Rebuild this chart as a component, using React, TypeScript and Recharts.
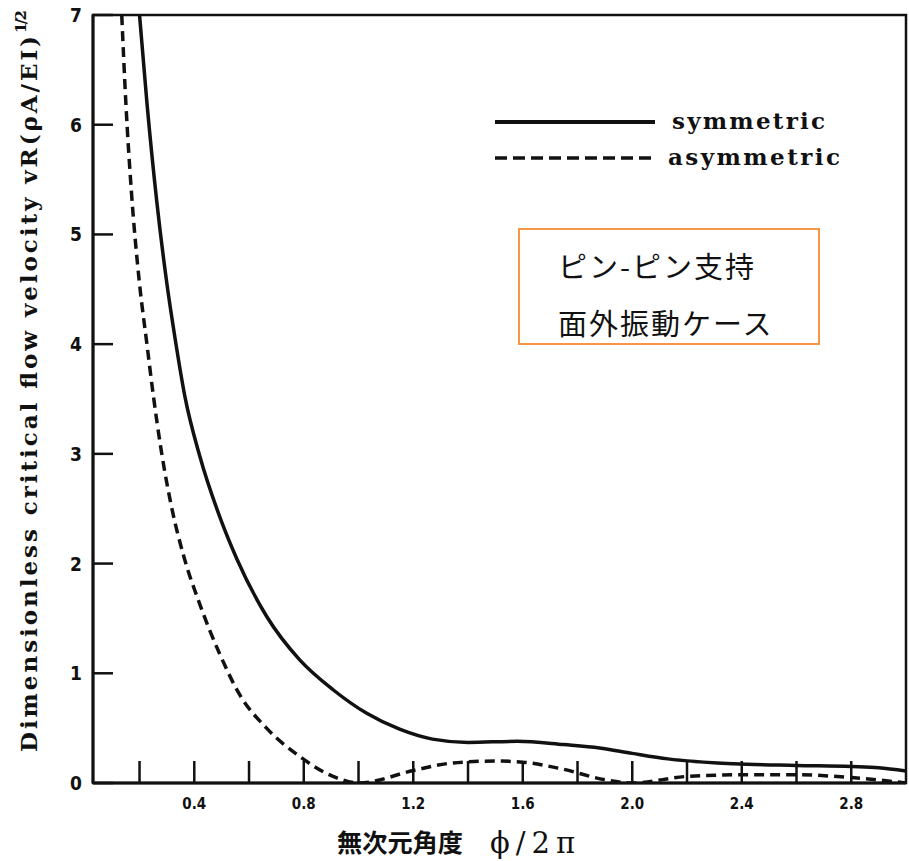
import {
  LineChart,
  Line,
  XAxis,
  YAxis,
  Legend,
  ReferenceArea,
} from 'recharts';

// values
const SYMMETRIC_X = [
  0.2, 0.227, 0.263, 0.3, 0.33, 0.366, 0.42, 0.5, 0.556, 0.664, 0.786, 0.907,
  1.03, 1.15, 1.27, 1.4, 1.58, 1.75, 1.88, 2.0, 2.13, 2.37, 2.6, 2.8, 2.9, 3.0,
];
const SYMMETRIC_Y = [
  7.0, 6.2, 5.3, 4.55, 4.05, 3.52, 2.98, 2.38, 2.04, 1.52, 1.12, 0.85,
  0.635, 0.49, 0.4, 0.37, 0.38, 0.35, 0.32, 0.27, 0.22, 0.175, 0.16, 0.15, 0.14, 0.11,
];

const ASYMMETRIC_X = [
  0.135, 0.15, 0.17, 0.2, 0.226, 0.25, 0.28, 0.32, 0.36, 0.42, 0.494, 0.567,
  0.664, 0.786, 0.907, 1.0, 1.21, 1.335, 1.5, 1.6, 1.74, 1.9, 2.0, 2.2, 2.4,
  2.6, 2.8, 3.0,
];
const ASYMMETRIC_Y = [
  7.0, 6.2, 5.4, 4.55, 4.02, 3.54, 3.02, 2.48, 2.08, 1.63, 1.17, 0.8,
  0.5, 0.24, 0.06, 0.0, 0.12, 0.18, 0.2, 0.19, 0.13, 0.03, 0.0, 0.06, 0.075,
  0.075, 0.05, 0.0,
];

const X_TICKS = [0.2, 0.4, 0.6, 0.8, 1.0, 1.2, 1.4, 1.6, 1.8, 2.0, 2.2, 2.4, 2.6, 2.8];
const X_LABELED = [0.4, 0.8, 1.2, 1.6, 2.0, 2.4, 2.8];
const Y_TICKS = [0, 1, 2, 3, 4, 5, 6, 7];

const SERIES_NAMES = ['symmetric', 'asymmetric'];
const BOX_LINES = ['ピン-ピン支持', '面外振動ケース'];

const symmetricData = SYMMETRIC_X.map((x, i) => ({ x, v: SYMMETRIC_Y[i] }));
const asymmetricData = ASYMMETRIC_X.map((x, i) => ({ x, v: ASYMMETRIC_Y[i] }));

const INK = '#111';
const TICK_FONT = "'DejaVu Sans Condensed', 'DejaVu Sans', sans-serif";
const SERIF = "'DejaVu Serif', serif";

function XTick({ x, y, payload }: any) {
  const v = payload.value;
  const labeled = X_LABELED.includes(v);
  return (
    <g>
      <line x1={x} x2={x} y1={y} y2={y - 22} stroke={INK} strokeWidth={2.5} />
      {labeled && (
        <text
          x={x}
          y={y + 26}
          textAnchor="middle"
          fontFamily={TICK_FONT}
          fontWeight="bold"
          fontSize={15}
          fill={INK}
        >
          {v.toFixed(1)}
        </text>
      )}
    </g>
  );
}

function YTick({ x, y, payload }: any) {
  return (
    <g>
      <line x1={x} x2={x + 20} y1={y} y2={y} stroke={INK} strokeWidth={2.5} />
      <text
        x={x - 17}
        y={y + 7}
        textAnchor="middle"
        fontFamily={TICK_FONT}
        fontWeight="bold"
        fontSize={19}
        fill={INK}
      >
        {payload.value}
      </text>
    </g>
  );
}

function YTitle() {
  return (
    <g fill={INK} fontFamily={SERIF} fontWeight="bold">
      <text
        transform="translate(37, 752) rotate(-90)"
        fontSize={23}
        textLength={716}
        lengthAdjust="spacing"
      >
        Dimensionless critical flow velocity vR(ρA/EI)
      </text>
      <text
        transform="translate(26, 33) rotate(-90)"
        fontSize={15}
        textLength={23}
        lengthAdjust="spacing"
      >
        1/2
      </text>
    </g>
  );
}

function XTitle() {
  return (
    <g fill={INK}>
      <text
        x={337}
        y={852}
        fontFamily="'Noto Sans CJK JP', sans-serif"
        fontWeight="bold"
        fontSize={25}
        textLength={126}
        lengthAdjust="spacingAndGlyphs"
      >
        無次元角度
      </text>
      <text
        x={490}
        y={853}
        fontFamily={SERIF}
        fontSize={29}
        textLength={85}
        lengthAdjust="spacing"
      >
        ϕ/2π
      </text>
    </g>
  );
}

function LegendBox() {
  return (
    <svg width={360} height={80} style={{ display: 'block' }}>
      <line x1={0} x2={160} y1={22} y2={22} stroke={INK} strokeWidth={4} />
      <line
        x1={0}
        x2={162}
        y1={58}
        y2={58}
        stroke={INK}
        strokeWidth={3.5}
        strokeDasharray="12 6"
      />
      <text
        x={177}
        y={29}
        fontFamily={SERIF}
        fontWeight="bold"
        fontSize={23}
        fill={INK}
        textLength={153}
        lengthAdjust="spacing"
      >
        {SERIES_NAMES[0]}
      </text>
      <text
        x={173}
        y={65}
        fontFamily={SERIF}
        fontWeight="bold"
        fontSize={23}
        fill={INK}
        textLength={172}
        lengthAdjust="spacing"
      >
        {SERIES_NAMES[1]}
      </text>
    </svg>
  );
}

export default function App() {
  return (
    <div
      style={{
        position: 'absolute',
        left: 0,
        top: 0,
        width: 909,
        height: 861,
        background: '#fff',
      }}
    >
      <LineChart
        width={909}
        height={861}
        margin={{ top: 15, right: 3, bottom: 0, left: 0 }}
      >
        <XAxis
          dataKey="x"
          type="number"
          domain={[0.03, 3]}
          allowDataOverflow
          ticks={X_TICKS}
          interval={0}
          height={78}
          tickSize={0}
          tickMargin={0}
          tickLine={false}
          axisLine={{ stroke: INK, strokeWidth: 3 }}
          tick={<XTick />}
          label={{ content: () => <XTitle /> }}
        />
        <YAxis
          type="number"
          domain={[0, 7]}
          allowDataOverflow
          ticks={Y_TICKS}
          interval={0}
          width={93}
          tickSize={0}
          tickMargin={0}
          tickLine={false}
          axisLine={{ stroke: INK, strokeWidth: 3 }}
          tick={<YTick />}
          label={{ content: () => <YTitle /> }}
        />
        <ReferenceArea
          x1={0.03}
          x2={3}
          y1={0}
          y2={7}
          fill="none"
          stroke={INK}
          strokeWidth={2.5}
          ifOverflow="visible"
        />
        <Line
          data={symmetricData}
          dataKey="v"
          name={SERIES_NAMES[0]}
          type="monotone"
          stroke={INK}
          strokeWidth={3.5}
          dot={false}
          isAnimationActive={false}
        />
        <Line
          data={asymmetricData}
          dataKey="v"
          name={SERIES_NAMES[1]}
          type="monotone"
          stroke={INK}
          strokeWidth={3.5}
          strokeDasharray="10 6"
          dot={false}
          isAnimationActive={false}
        />
        <Legend
          layout="vertical"
          align="center"
          verticalAlign="middle"
          content={() => <LegendBox />}
          wrapperStyle={{ left: 495, top: 100, width: 360, height: 80 }}
        />
      </LineChart>
      <div
        style={{
          position: 'absolute',
          left: 518,
          top: 228,
          width: 298,
          height: 113,
          border: '2px solid #f79646',
          fontFamily: "'Noto Sans CJK JP', sans-serif",
          fontSize: 29,
          letterSpacing: 2,
          color: INK,
          boxSizing: 'content-box',
        }}
      >
        <div style={{ position: 'absolute', left: 38, top: 17, lineHeight: '36px', whiteSpace: 'nowrap' }}>
          {BOX_LINES[0]}
        </div>
        <div style={{ position: 'absolute', left: 38, top: 74, lineHeight: '36px', whiteSpace: 'nowrap' }}>
          {BOX_LINES[1]}
        </div>
      </div>
    </div>
  );
}
